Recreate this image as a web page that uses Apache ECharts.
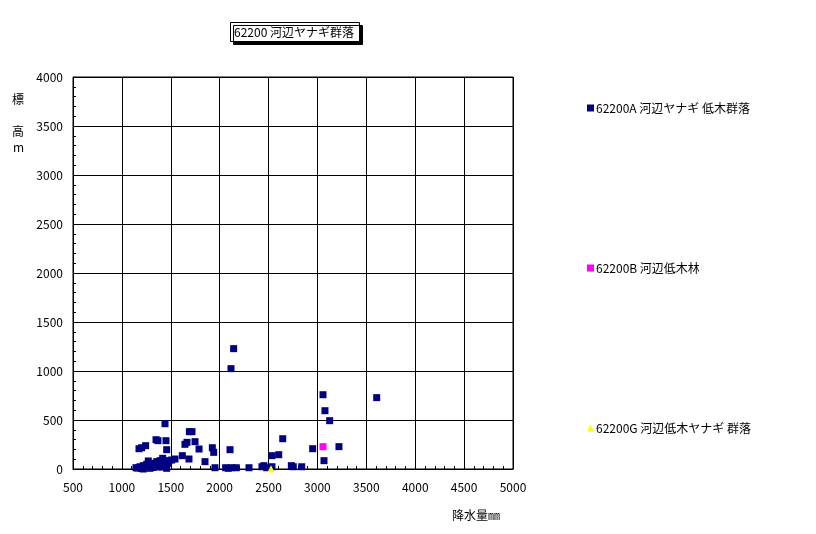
<!DOCTYPE html>
<html><head><meta charset="utf-8">
<script src="https://cdn.jsdelivr.net/npm/echarts@6/dist/echarts.min.js"></script>
<style>html,body{margin:0;padding:0;background:#fff}#c{width:816px;height:534px}</style>
</head><body><div id="c"></div>
<script>
const titleText = '62200 河辺ヤナギ群落';
const xName = '降水量㎜';
const yNameChars = ['標', '高', 'm'];
const seriesNames = ['62200A 河辺ヤナギ 低木群落', '62200B 河辺低木林', '62200G 河辺低木ヤナギ 群落'];
const seriesA = [
  [2143,1228],[2116,1024],[1441,462],[1690,381],[1717,381],[1349,299],[1369,289],[1451,289],
  [1645,252],[1666,272],[1748,279],[1175,207],[1202,217],[1243,238],[1458,197],[1789,204],
  [1925,217],[1939,170],[2106,197],[1618,136],[1686,102],[1850,75],[1390,85],[1482,85],
  [1144,13],[1185,23],[1219,34],[1254,48],[1270,82],[1305,58],[1339,34],[1356,75],[1390,48],
  [1417,109],[1441,82],[1475,58],[1509,92],[1543,102],[1458,7],[1287,7],[1219,0],[1370,23],
  [1160,10],[1200,5],[1320,15],[1400,20],[1430,40],
  [1952,13],[2061,13],[2088,7],[2122,13],[2170,13],[2300,13],
  [3057,758],[3606,728],[3077,595],[3125,493],[2645,309],[2951,207],[3220,228],[2535,136],
  [2604,146],[3067,85],[2433,23],[2453,34],[2481,13],[2535,23],[2733,34],[2753,23],[2839,23]
];
const seriesB = [[3057,228]];
const seriesG = [[2525,3]];
const xMin = 500, xMax = 5000, xStep = 500;
const yMin = 0, yMax = 4000, yStep = 500;

const font = '"Noto Sans CJK JP", "DejaVu Sans", sans-serif';
const chart = echarts.init(document.getElementById('c'));
chart.setOption({
  animation: false,
  backgroundColor: '#fff',
  title: {
    text: titleText, left: 230, top: 22,
    padding: [4, 6, 4, 4],
    backgroundColor: '#fff', borderColor: '#000', borderWidth: 1,
    shadowColor: '#000', shadowOffsetX: 3, shadowOffsetY: 3, shadowBlur: 0,
    textStyle: {fontSize: 12, fontWeight: 'normal', color: '#000', fontFamily: font}
  },
  legend: {
    orient: 'vertical', left: 582, top: 97, itemGap: 148,
    itemWidth: 7, itemHeight: 7,
    textStyle: {fontSize: 12, color: '#000', fontFamily: font, padding: [0,0,0,-3]},
    data: [
      {name: seriesNames[0], icon: 'rect'},
      {name: seriesNames[1], icon: 'rect'},
      {name: seriesNames[2], icon: 'triangle'}
    ]
  },
  grid: {left: 73, top: 77, width: 440, height: 392, show: true, borderColor: '#000', borderWidth: 1},
  xAxis: {
    type: 'value', min: xMin, max: xMax, interval: xStep,
    axisLine: {show: true, onZero: false, lineStyle: {color: '#000', width: 1}},
    axisTick: {show: true, inside: true, length: 5, lineStyle: {color: '#000'}},
    minorTick: {show: true, splitNumber: 5, length: 3, lineStyle: {color: '#000'}},
    axisLabel: {color: '#000', fontSize: 12, fontFamily: font, margin: 12, formatter: v => String(v)},
    splitLine: {show: true, lineStyle: {color: '#000', width: 1}}
  },
  yAxis: {
    type: 'value', min: yMin, max: yMax, interval: yStep,
    axisLine: {show: true, onZero: false, lineStyle: {color: '#000', width: 1}},
    axisTick: {show: true, inside: true, length: 5, lineStyle: {color: '#000'}},
    minorTick: {show: true, splitNumber: 5, length: 3, lineStyle: {color: '#000'}},
    axisLabel: {color: '#000', fontSize: 12, fontFamily: font, margin: 10, formatter: v => String(v)},
    splitLine: {show: true, lineStyle: {color: '#000', width: 1}}
  },
  graphic: [
    {type: 'text', left: 452, top: 509, style: {text: xName, fontSize: 12, fill: '#000', fontFamily: font}},
    {type: 'text', left: 12, top: 93, style: {text: yNameChars[0], fontSize: 12, fill: '#000', fontFamily: font}},
    {type: 'text', left: 12, top: 125, style: {text: yNameChars[1], fontSize: 12, fill: '#000', fontFamily: font}},
    {type: 'text', left: 13, top: 141, style: {text: yNameChars[2], fontSize: 12, fill: '#000', fontFamily: font}}
  ],
  series: [
    {name: seriesNames[0], type: 'scatter', symbol: 'rect', symbolSize: 7, data: seriesA,
     itemStyle: {color: '#000080', opacity: 1}},
    {name: seriesNames[1], type: 'scatter', symbol: 'rect', symbolSize: 7, data: seriesB,
     itemStyle: {color: '#FF00FF', opacity: 1}},
    {name: seriesNames[2], type: 'scatter', symbol: 'triangle', symbolSize: 7, data: seriesG,
     itemStyle: {color: '#FFFF00', opacity: 1}}
  ]
});
</script></body></html>
